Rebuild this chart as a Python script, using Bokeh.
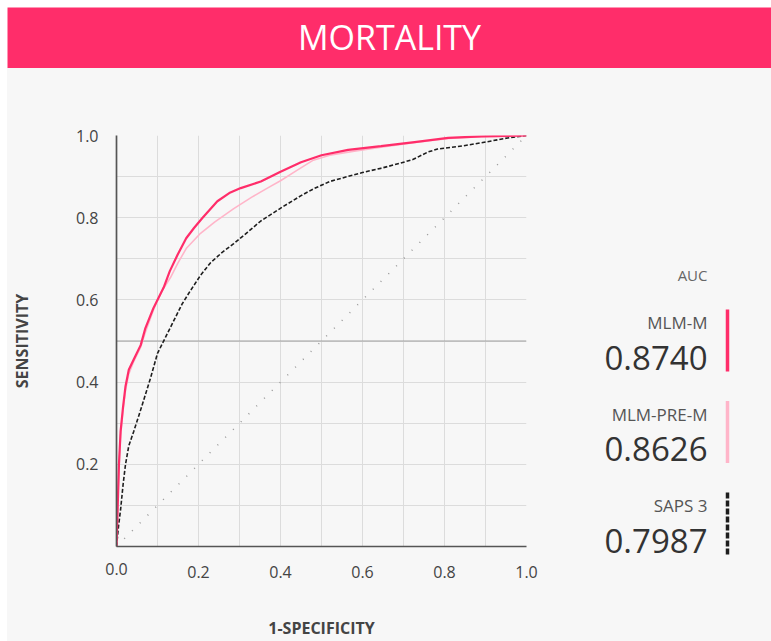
from bokeh.plotting import figure
from bokeh.layouts import column, row
from bokeh.models import FixedTicker, Span, Range1d, ColumnDataSource, LinearAxis
from bokeh.core.properties import value
from bokeh.embed import file_html
from bokeh.resources import INLINE

# ---------------- data ----------------
TITLE = "MORTALITY"
X_LABEL = "1-SPECIFICITY"
Y_LABEL = "SENSITIVITY"
X_TICKS = [0.2, 0.4, 0.6, 0.8, 1.0]
X_TICK_LABELS = ["0.2", "0.4", "0.6", "0.8", "1.0"]
Y_TICKS = [0.2, 0.4, 0.6, 0.8, 1.0]
Y_TICK_LABELS = ["0.2", "0.4", "0.6", "0.8", "1.0"]
MINOR_TICKS = [0.1, 0.3, 0.5, 0.7, 0.9]
ORIGIN_TICK = 0.0
ORIGIN_LABEL = "0.0"

mlm_m_fpr = [0.0, 0.003, 0.006, 0.01, 0.016, 0.022, 0.03, 0.042, 0.059, 0.07, 0.09, 0.115, 0.13,
             0.149, 0.17, 0.189, 0.21, 0.246, 0.275, 0.303, 0.352, 0.40, 0.45, 0.50, 0.565, 0.645,
             0.727, 0.809, 0.89, 1.0]
mlm_m_tpr = [0.0, 0.10, 0.20, 0.28, 0.34, 0.39, 0.43, 0.455, 0.49, 0.53, 0.58, 0.63, 0.67,
             0.71, 0.75, 0.775, 0.80, 0.84, 0.86, 0.872, 0.888, 0.912, 0.935, 0.952, 0.965, 0.974,
             0.984, 0.994, 0.998, 1.0]

mlm_pre_fpr = [0.0, 0.003, 0.006, 0.01, 0.016, 0.022, 0.03, 0.042, 0.059, 0.07, 0.09, 0.11, 0.132,
               0.15, 0.17, 0.205, 0.24, 0.286, 0.33, 0.368, 0.40, 0.44, 0.48, 0.52, 0.58, 0.65,
               0.73, 0.81, 0.89, 1.0]
mlm_pre_tpr = [0.0, 0.10, 0.19, 0.27, 0.33, 0.38, 0.42, 0.45, 0.485, 0.52, 0.575, 0.62, 0.655,
               0.69, 0.725, 0.762, 0.79, 0.822, 0.85, 0.872, 0.89, 0.915, 0.94, 0.952, 0.962, 0.972,
               0.983, 0.993, 0.997, 1.0]

saps_fpr = [0.0, 0.005, 0.01, 0.016, 0.022, 0.03, 0.042, 0.055, 0.066, 0.083, 0.10, 0.12, 0.14,
            0.16, 0.18, 0.205, 0.229, 0.257, 0.286, 0.32, 0.352, 0.38, 0.408, 0.449, 0.48, 0.52,
            0.563, 0.60, 0.644, 0.69, 0.724, 0.76, 0.783, 0.846, 0.905, 0.954, 1.0]
saps_tpr = [0.0, 0.05, 0.09, 0.15, 0.20, 0.245, 0.28, 0.32, 0.355, 0.41, 0.47, 0.51, 0.55,
            0.59, 0.622, 0.66, 0.69, 0.715, 0.737, 0.765, 0.792, 0.81, 0.828, 0.853, 0.87, 0.888,
            0.90, 0.91, 0.92, 0.932, 0.942, 0.96, 0.967, 0.975, 0.985, 0.994, 1.0]

diag_x = [0.0, 1.0]
diag_y = [0.0, 1.0]
ref_level = 0.5

model_names = ["MLM-M", "MLM-PRE-M", "SAPS 3"]
model_auc = [0.8740, 0.8626, 0.7987]
LEGEND_HEADER = "AUC"

# ---------------- style ----------------
BG = "#F7F7F7"
PINK = "#FF2D6A"
LIGHT = "#FFB5C9"
DARK = "#1E1E1E"
GRID = "#DCDCDC"
FONT = "Open Sans"

def no_frame_align(fig):
    if "frame_align" in fig.properties():
        fig.frame_align = False
        return True
    return False

# ---------------- title bar ----------------
T = figure(width=764, height=61, x_range=Range1d(0, 1), y_range=Range1d(0, 1),
           output_backend="svg", toolbar_location=None, min_border=0,
           x_axis_location=None, y_axis_location=None,
           background_fill_color=PINK, border_fill_color=PINK, outline_line_color=None)
no_frame_align(T)
T.grid.visible = False
T.text(x=[0.5], y=[0.52], text=[TITLE], text_color="white", text_font=value(FONT),
       text_font_size="34px", text_align="center", text_baseline="middle")

# ---------------- main plot ----------------
P = figure(width=546, height=573, x_range=Range1d(0, 1), y_range=Range1d(0, 1),
           output_backend="svg", toolbar_location=None,
           min_border_left=109, min_border_right=27, min_border_top=67, min_border_bottom=94,
           background_fill_color=BG, border_fill_color=BG, outline_line_color=None)

P.xaxis.ticker = FixedTicker(ticks=X_TICKS, minor_ticks=MINOR_TICKS)
P.xaxis.major_label_overrides = {t: l for t, l in zip(X_TICKS, X_TICK_LABELS)}
P.yaxis.ticker = FixedTicker(ticks=Y_TICKS, minor_ticks=MINOR_TICKS)
P.yaxis.major_label_overrides = {t: l for t, l in zip(Y_TICKS, Y_TICK_LABELS)}

def style_axis(ax):
    ax.axis_line_color = "#555555"
    ax.axis_line_width = 1.7
    ax.major_tick_line_color = None
    ax.minor_tick_line_color = None
    ax.major_tick_out = 0
    ax.major_tick_in = 0
    ax.minor_tick_out = 0
    ax.minor_tick_in = 0
    ax.major_label_text_font = FONT
    ax.major_label_text_font_size = "16px"
    ax.major_label_text_color = "#444444"
    ax.axis_label_text_font = FONT
    ax.axis_label_text_font_size = "16px"
    ax.axis_label_text_font_style = "bold"
    ax.axis_label_text_color = "#444444"

style_axis(P.xaxis[0])
style_axis(P.yaxis[0])

P.yaxis.axis_label = Y_LABEL
P.xaxis.major_label_standoff = 19
P.yaxis.major_label_standoff = 18
P.yaxis.axis_label_standoff = 40

# second bottom axis: carries the shared origin label "0.0" (lifted back up to the
# tick-label row and set to the left of the origin) and the x axis title
origin_axis = LinearAxis(ticker=FixedTicker(ticks=[ORIGIN_TICK]),
                         major_label_overrides={ORIGIN_TICK: ORIGIN_LABEL}, axis_label=X_LABEL)
style_axis(origin_axis)
origin_axis.axis_line_color = None
origin_axis.major_label_text_align = "right"
origin_axis.major_label_standoff = -18
origin_axis.axis_label_standoff = 39
P.add_layout(origin_axis, "below")

for g in (P.xgrid[0], P.ygrid[0]):
    g.grid_line_color = GRID
    g.minor_grid_line_color = GRID
    g.grid_line_width = 1
    g.minor_grid_line_width = 1

P.add_layout(Span(location=ref_level, dimension="width", line_color="#A0A0A0",
                  line_width=1.2, level="underlay"))

P.line(diag_x, diag_y, line_color="#9A9A9A", line_width=1.5, line_dash="1 10")
P.line(saps_fpr, saps_tpr, line_color=DARK, line_width=1.6, line_dash="4 2")
P.line(mlm_pre_fpr, mlm_pre_tpr, line_color=LIGHT, line_width=1.6)
P.line(mlm_m_fpr, mlm_m_tpr, line_color=PINK, line_width=2.2)

# ---------------- legend panel ----------------
LW, LH = 218, 573
L = figure(width=LW, height=LH, x_range=Range1d(0, LW), y_range=Range1d(LH, 0),
           output_backend="svg", toolbar_location=None, min_border=0,
           x_axis_location=None, y_axis_location=None,
           background_fill_color=BG, border_fill_color=BG, outline_line_color=None)
if not no_frame_align(L):
    L.y_range = Range1d(LH - 94, 67)
L.grid.visible = False

text_x = 154
bar_x = 174
y0 = 254
step = 91.5
colors = [PINK, LIGHT, DARK]
name_y = [y0 + i * step for i in range(len(model_names))]
val_y = [y + 35 for y in name_y]

L.text(x=[text_x], y=[206], text=[LEGEND_HEADER], text_align="right", text_baseline="middle",
       text_font=value(FONT), text_font_size="15px", text_color="#666666")

src = ColumnDataSource(dict(x=[text_x] * len(model_names), ny=name_y, vy=val_y, name=model_names,
                            val=["%.4f" % v for v in model_auc]))
L.text(x="x", y="ny", text="name", source=src, text_align="right", text_baseline="middle",
       text_font=value(FONT), text_font_size="17px", text_color="#555555")
L.text(x="x", y="vy", text="val", source=src, text_align="right", text_baseline="middle",
       text_font=value(FONT), text_font_size="33px", text_color="#333333")

for i, c in enumerate(colors):
    dash = "6 2" if i == 2 else "solid"
    L.segment(x0=[bar_x], y0=[name_y[i] - 13], x1=[bar_x], y1=[name_y[i] + 49],
              line_color=c, line_width=3.5, line_dash=dash)

body = row(P, L, styles={"background-color": BG})
layout = column(T, body, margin=(7, 0, 0, 7))
open("out.html", "w").write(file_html(layout, INLINE))
